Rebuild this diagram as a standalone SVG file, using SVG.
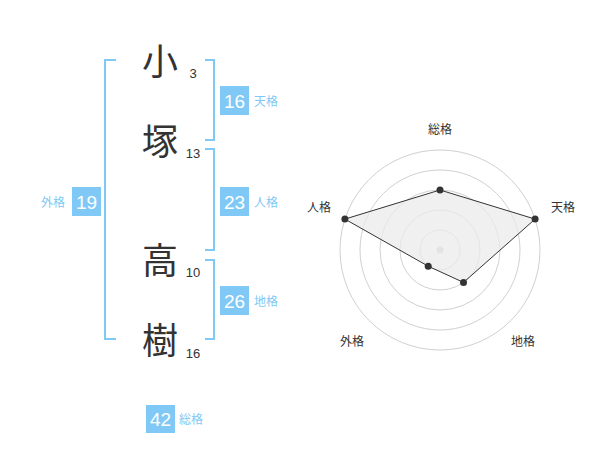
<svg xmlns="http://www.w3.org/2000/svg" width="600" height="470" viewBox="0 0 600 470">
<style>
.ch{font-family:"Noto Sans CJK JP","Noto Sans CJK SC",sans-serif;font-size:36px;fill:#333;text-anchor:middle}
.sn{font-family:"Liberation Sans",Arial,sans-serif;font-size:13px;fill:#333;text-anchor:middle}
.br{fill:none;stroke:#80c9f6;stroke-width:2}
.bx{fill:#80c9f6}
.bn{font-family:"Liberation Sans",Arial,sans-serif;font-size:19px;fill:#fff;text-anchor:middle}
.bl{font-family:"Noto Sans CJK JP","Noto Sans CJK SC",sans-serif;font-size:12px;fill:#80c9f6}
.ring{fill:none;stroke:#d0d0d0;stroke-width:1}
.rl{font-family:"Noto Sans CJK JP","Noto Sans CJK SC",sans-serif;font-size:12px;fill:#333;text-anchor:middle}
.dot{fill:#333}
</style>
<rect width="600" height="470" fill="#fff"/>
<g id="name">
<g id="c1"><text class="ch" x="160" y="75">小</text><text class="sn" x="193" y="78">3</text></g>
<g id="c2"><text class="ch" x="160" y="155">塚</text><text class="sn" x="193" y="158">13</text></g>
<g id="c3"><text class="ch" x="160" y="274">高</text><text class="sn" x="193" y="277">10</text></g>
<g id="c4"><text class="ch" x="160" y="354">樹</text><text class="sn" x="193" y="358">16</text></g>
</g>
<g id="connectors">
<path class="br" d="M116,60 H105 V339 H116"/>
<path class="br" d="M205,60 H214 V140 H205"/>
<path class="br" d="M205,149 H214 V250 H205"/>
<path class="br" d="M205,260 H214 V339 H205"/>
</g>
<g id="tenkaku"><rect class="bx" x="220" y="86" width="29" height="29"/><text class="bn" x="234.5" y="107.5">16</text><text class="bl" x="254" y="105.5">天格</text></g>
<g id="jinkaku"><rect class="bx" x="220" y="187" width="29" height="29"/><text class="bn" x="234.5" y="208.5">23</text><text class="bl" x="254" y="206.5">人格</text></g>
<g id="chikaku"><rect class="bx" x="220" y="286" width="29" height="29"/><text class="bn" x="234.5" y="307.5">26</text><text class="bl" x="254" y="305.5">地格</text></g>
<g id="gaikaku"><rect class="bx" x="72" y="187" width="29" height="29"/><text class="bn" x="86.5" y="208.5">19</text><text class="bl" x="41" y="206.5">外格</text></g>
<g id="soukaku"><rect class="bx" x="146" y="405" width="29" height="28"/><text class="bn" x="160.5" y="426">42</text><text class="bl" x="179" y="424">総格</text></g>
<g id="radar">
<circle class="ring" cx="440" cy="250" r="20"/>
<circle class="ring" cx="440" cy="250" r="40"/>
<circle class="ring" cx="440" cy="250" r="60"/>
<circle class="ring" cx="440" cy="250" r="80"/>
<circle class="ring" cx="440" cy="250" r="100"/>
<circle cx="440" cy="250" r="3.5" fill="#ccc"/>
<polygon points="440,190 535.1,219.1 463.5,282.4 428.2,266.2 344.9,219.1" fill="#ebebeb" fill-opacity="0.75" stroke="#333" stroke-width="1"/>
<circle class="dot" cx="440" cy="190" r="3.5"/>
<circle class="dot" cx="535.1" cy="219.1" r="3.5"/>
<circle class="dot" cx="463.5" cy="282.4" r="3.5"/>
<circle class="dot" cx="428.2" cy="266.2" r="3.5"/>
<circle class="dot" cx="344.9" cy="219.1" r="3.5"/>
<text class="rl" x="440" y="134">総格</text>
<text class="rl" x="563" y="212">天格</text>
<text class="rl" x="319" y="212">人格</text>
<text class="rl" x="352" y="346">外格</text>
<text class="rl" x="523" y="346">地格</text>
</g>
</svg>
